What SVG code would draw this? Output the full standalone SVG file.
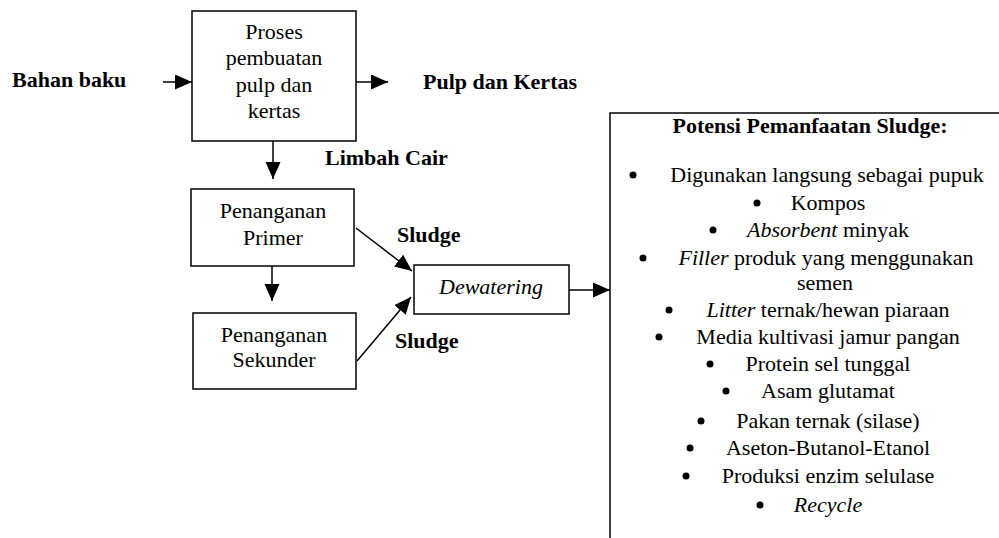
<svg xmlns="http://www.w3.org/2000/svg" width="999" height="538" viewBox="0 0 999 538" font-family="'Liberation Serif', serif">
<style>
text{font-family:'Liberation Serif',serif;font-size:22px;fill:#000}
.b{font-weight:bold}
.i{font-style:italic}
.c{text-anchor:middle}
.box{fill:#fff;stroke:#000;stroke-width:1.5}
.ln{stroke:#000;stroke-width:1.5;fill:none;marker-end:url(#ah)}
.dot{fill:#000}
</style>
<defs>
<marker id="ah" markerUnits="userSpaceOnUse" markerWidth="18" markerHeight="16" refX="17" refY="7.5" orient="auto">
<path d="M0,0 L17,7.5 L0,15 z" fill="#000"/>
</marker>
</defs>
<rect width="999" height="538" fill="#fff"/>

<g id="labels">
<text class="b" x="12" y="87">Bahan baku</text>
<text class="b" x="423" y="89">Pulp dan Kertas</text>
<text class="b" x="325" y="165">Limbah Cair</text>
<text class="b" x="397" y="242">Sludge</text>
<text class="b" x="395" y="348">Sludge</text>
</g>

<g id="proses">
<rect class="box" x="192" y="11" width="164" height="130"/>
<text class="c" x="274" y="39">Proses</text>
<text class="c" x="274" y="65">pembuatan</text>
<text class="c" x="274" y="92">pulp dan</text>
<text class="c" x="274" y="118">kertas</text>
</g>

<g id="primer">
<rect class="box" x="191" y="189" width="163" height="77"/>
<text class="c" x="273" y="218">Penanganan</text>
<text class="c" x="273" y="245">Primer</text>
</g>

<g id="sekunder">
<rect class="box" x="193" y="313" width="163" height="76"/>
<text class="c" x="274" y="342">Penanganan</text>
<text class="c" x="274" y="367">Sekunder</text>
</g>

<g id="dewatering">
<rect class="box" x="414" y="265" width="155" height="49"/>
<text class="c i" x="491" y="294">Dewatering</text>
</g>

<g id="potensi">
<rect class="box" x="610" y="113" width="500" height="500"/>
<text class="b c" x="810" y="133">Potensi Pemanfaatan Sludge:</text>
<circle class="dot" cx="633" cy="175" r="3.5"/>
<text class="c" x="827" y="182">Digunakan langsung sebagai pupuk</text>
<circle class="dot" cx="757" cy="203" r="3.5"/>
<text class="c" x="828" y="210">Kompos</text>
<circle class="dot" cx="713" cy="230" r="3.5"/>
<text class="c" x="828" y="237"><tspan class="i">Absorbent</tspan> minyak</text>
<circle class="dot" cx="643" cy="258" r="3.5"/>
<text class="c" x="826" y="265"><tspan class="i">Filler</tspan> produk yang menggunakan</text>
<text class="c" x="825" y="290">semen</text>
<circle class="dot" cx="669" cy="310" r="3.5"/>
<text class="c" x="828" y="317"><tspan class="i">Litter</tspan> ternak/hewan piaraan</text>
<circle class="dot" cx="659" cy="337" r="3.5"/>
<text class="c" x="828" y="344">Media kultivasi jamur pangan</text>
<circle class="dot" cx="710" cy="364" r="3.5"/>
<text class="c" x="828" y="371">Protein sel tunggal</text>
<circle class="dot" cx="726" cy="391" r="3.5"/>
<text class="c" x="828" y="398">Asam glutamat</text>
<circle class="dot" cx="701" cy="421" r="3.5"/>
<text class="c" x="828" y="428">Pakan ternak (silase)</text>
<circle class="dot" cx="690" cy="448" r="3.5"/>
<text class="c" x="828" y="455">Aseton-Butanol-Etanol</text>
<circle class="dot" cx="686" cy="476" r="3.5"/>
<text class="c" x="828" y="483">Produksi enzim selulase</text>
<circle class="dot" cx="760" cy="505" r="3.5"/>
<text class="c i" x="828" y="512">Recycle</text>
</g>

<g id="connectors">
<line class="ln" x1="163" y1="82" x2="192" y2="82"/>
<line class="ln" x1="356" y1="82" x2="388" y2="82"/>
<line class="ln" x1="273" y1="141" x2="273" y2="179"/>
<line class="ln" x1="272" y1="266" x2="272" y2="301"/>
<line class="ln" x1="356" y1="228" x2="412" y2="271"/>
<line class="ln" x1="357" y1="361" x2="411" y2="297"/>
<line class="ln" x1="569" y1="290" x2="610" y2="290"/>
</g>
</svg>
